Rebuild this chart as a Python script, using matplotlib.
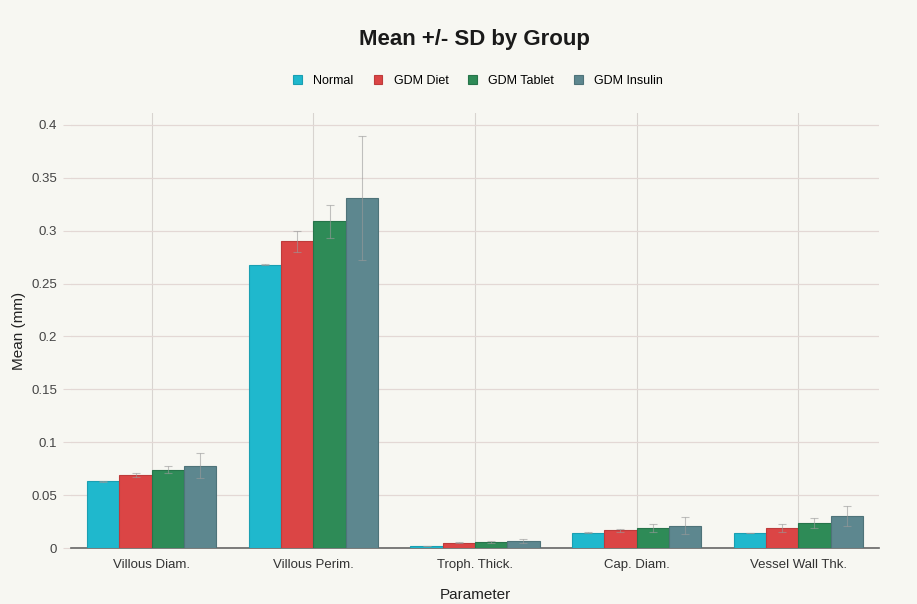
import matplotlib.pyplot as plt
import numpy as np

plt.rcParams['font.family'] = ['Liberation Sans', 'DejaVu Sans']

params = ['Villous Diam.', 'Villous Perim.', 'Troph. Thick.', 'Cap. Diam.', 'Vessel Wall Thk.']
groups = ['Normal', 'GDM Diet', 'GDM Tablet', 'GDM Insulin']
colors = ['#1FB8CD', '#DB4545', '#2E8B57', '#5D878F']
edges = ['#1A9FB2', '#BE3B3B', '#26744A', '#4E7379']

# mean and SD (mm) per group, one entry per parameter
means = {
    'Normal':      [0.063, 0.268, 0.002, 0.0145, 0.0142],
    'GDM Diet':    [0.069, 0.290, 0.005, 0.0167, 0.0186],
    'GDM Tablet':  [0.074, 0.309, 0.0057, 0.0186, 0.0236],
    'GDM Insulin': [0.078, 0.331, 0.007, 0.0211, 0.0303],
}
sds = {
    'Normal':      [0.0003, 0.0003, 0.0002, 0.0003, 0.0003],
    'GDM Diet':    [0.002, 0.010, 0.0005, 0.0015, 0.0038],
    'GDM Tablet':  [0.0035, 0.0155, 0.0008, 0.0038, 0.005],
    'GDM Insulin': [0.012, 0.059, 0.0018, 0.008, 0.0097],
}
yticks = [0, 0.05, 0.1, 0.15, 0.2, 0.25, 0.3, 0.35, 0.4]
ytick_labels = ['0', '0.05', '0.1', '0.15', '0.2', '0.25', '0.3', '0.35', '0.4']

bg = '#F7F7F2'
fig = plt.figure(figsize=(9.17, 6.04), dpi=100, facecolor=bg)
ax = fig.add_axes([0.0774, 0.0927, 0.8812, 0.7202])
ax.set_facecolor(bg)

x = np.arange(len(params))
w = 0.2
for i, g in enumerate(groups):
    pos = x + (i - 1.5) * w
    ax.bar(pos, means[g], width=w, color=colors[i], edgecolor=edges[i],
           linewidth=0.8, label=g, zorder=3)
    ax.errorbar(pos, means[g], yerr=sds[g], fmt='none', ecolor='#9A9A9A',
                elinewidth=0.8, capsize=3, capthick=0.8, alpha=0.6, zorder=4)

ax.set_xlim(-0.5, len(params) - 0.5)
ax.set_ylim(0, 0.4113)
ax.set_xticks(x)
ax.set_xticklabels(params, fontsize=9.5, color='#333333')
ax.set_yticks(yticks)
ax.set_yticklabels(ytick_labels, fontsize=9.5, color='#444444')

ax.grid(axis='y', color='#E3D8D5', linewidth=0.9, zorder=0)
ax.grid(axis='x', color='#D8D4D0', linewidth=0.8, zorder=0)
for s in ['top', 'right', 'left']:
    ax.spines[s].set_visible(False)
ax.spines['bottom'].set_color('#666666')
ax.spines['bottom'].set_linewidth(1.2)
ax.tick_params(axis='y', length=6, color='#E3D8D5', pad=4)
ax.tick_params(axis='x', length=0, pad=8)

ax.set_ylabel('Mean (mm)', fontsize=11, color='#222222', labelpad=4)
ax.set_xlabel('Parameter', fontsize=11, color='#222222', labelpad=12)

fig.text(0.517, 0.934, 'Mean +/- SD by Group', ha='center', va='center',
         fontsize=16, fontweight='bold', color='#1a1a1a')
ax.legend(loc='upper center', bbox_to_anchor=(0.504, 1.114), ncol=4, frameon=False,
          fontsize=9, handlelength=0.7, handleheight=0.7, handletextpad=0.9,
          columnspacing=1.6)

fig.savefig('out.png', dpi=100, facecolor=bg)
